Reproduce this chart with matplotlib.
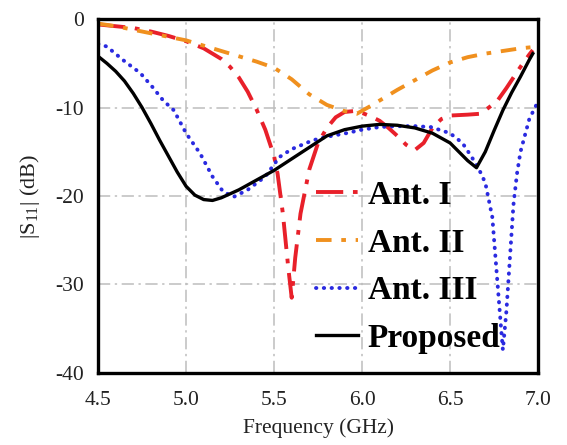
import numpy as np
import matplotlib
matplotlib.use("Agg")
import matplotlib.pyplot as plt

plt.rcParams['font.family'] = ['Liberation Serif', 'DejaVu Serif']
plt.rcParams['mathtext.default'] = 'regular'
plt.rcParams['axes.unicode_minus'] = False

# Proposed antenna
f_prop = [4.5, 4.55, 4.6, 4.65, 4.7, 4.75, 4.8, 4.85, 4.9, 4.95, 5.0, 5.05, 5.1,
          5.15, 5.2, 5.3, 5.4, 5.5, 5.6, 5.7, 5.8, 5.9, 6.0, 6.1, 6.2, 6.3, 6.4,
          6.5, 6.56, 6.6, 6.65, 6.7, 6.75, 6.8, 6.85, 6.9, 6.95, 6.97]
s_prop = [-4.2, -5.0, -5.9, -7.0, -8.4, -10.0, -11.8, -13.7, -15.5, -17.3, -18.9,
          -19.9, -20.4, -20.5, -20.2, -19.3, -18.2, -17.1, -15.8, -14.5, -13.2,
          -12.5, -12.1, -11.9, -12.0, -12.3, -12.9, -14.0, -15.2, -16.0, -16.8,
          -15.0, -12.6, -10.3, -8.3, -6.5, -4.6, -3.9]

# Ant. I
f_ant1 = [4.5, 4.6, 4.7, 4.8, 4.9, 5.0, 5.1, 5.2, 5.25, 5.3, 5.35, 5.4, 5.45, 5.5,
          5.52, 5.55, 5.58, 5.6, 5.62, 5.65, 5.7, 5.75, 5.8, 5.85, 5.9, 5.95, 6.0,
          6.05, 6.1, 6.15, 6.2, 6.25, 6.3, 6.35, 6.4, 6.45, 6.5, 6.6, 6.67, 6.72,
          6.77, 6.82, 6.87, 6.9, 6.95, 6.97]
s_ant1 = [-0.6, -0.8, -1.0, -1.4, -1.9, -2.5, -3.3, -4.5, -5.4, -6.6, -8.2, -10.2,
          -12.5, -15.5, -17.5, -22.0, -28.0, -31.5, -27.0, -22.0, -17.0, -14.0,
          -12.3, -11.1, -10.5, -10.4, -10.6, -11.0, -11.5, -12.3, -13.2, -14.2,
          -14.8, -14.0, -12.3, -11.3, -10.9, -10.8, -10.7, -10.0, -9.2, -7.8,
          -6.3, -5.4, -4.0, -3.5]

# Ant. II
f_ant2 = [4.5, 4.6, 4.7, 4.8, 4.9, 5.0, 5.1, 5.2, 5.3, 5.4, 5.5, 5.6, 5.7, 5.8,
          5.9, 5.97, 6.05, 6.1, 6.2, 6.3, 6.4, 6.5, 6.6, 6.7, 6.8, 6.9, 7.0]
s_ant2 = [-0.5, -0.8, -1.2, -1.6, -2.0, -2.4, -3.0, -3.6, -4.2, -4.8, -5.5, -6.8,
          -8.5, -9.7, -10.4, -10.7, -9.8, -9.2, -8.0, -6.9, -5.8, -4.9, -4.3,
          -3.9, -3.6, -3.3, -3.1]

# Ant. III
f_ant3 = [4.5, 4.55, 4.64, 4.74, 4.81, 4.87, 4.93, 5.0, 5.08, 5.15, 5.21, 5.27,
          5.35, 5.45, 5.53, 5.6, 5.72, 5.8, 5.91, 6.0, 6.1, 6.2, 6.3, 6.39, 6.5,
          6.57, 6.62, 6.66, 6.7, 6.74, 6.77, 6.79, 6.8, 6.82, 6.84, 6.86, 6.88,
          6.9, 6.95, 7.0]
s_ant3 = [-2.8, -3.1, -4.6, -6.1, -7.7, -9.2, -10.3, -12.9, -15.2, -17.8, -19.5,
          -20.1, -19.3, -17.8, -15.6, -14.7, -13.7, -13.3, -12.9, -12.5, -12.2,
          -12.1, -12.1, -12.2, -12.9, -14.0, -15.5, -16.8, -18.5, -22.4, -30.0,
          -35.0, -37.4, -33.0, -27.0, -21.0, -17.5, -15.0, -11.3, -9.3]

x_ticks = [4.5, 5.0, 5.5, 6.0, 6.5, 7.0]
y_ticks = [0, -10, -20, -30, -40]

fig = plt.figure(figsize=(5.67, 4.45), dpi=100)
ax = fig.add_axes([0.173, 0.162, 0.776, 0.795])

ax.plot(f_ant1, s_ant1, color='#e8202a', lw=2.8, dashes=(7, 2.5, 1.2, 2.5), label='Ant. I')
ax.plot(f_ant2, s_ant2, color='#f0901e', lw=2.8, dashes=(4, 2.5, 1.2, 2.5), label='Ant. II')
ax.plot(f_ant3, s_ant3, color='#2a2ae0', lw=2.8, dashes=(0.1, 1.9),
        dash_capstyle='round', label='Ant. III')
ax.plot(f_prop, s_prop, color='black', lw=2.4, label='Proposed')

ax.set_xlim(4.5, 7.0)
ax.set_ylim(-40, 0)
ax.set_xticks(x_ticks)
ax.set_xticklabels(['%.1f' % v for v in x_ticks])
ax.set_yticks(y_ticks)
ax.grid(True, color='#bdbdbd', lw=1.1, linestyle=(0, (8, 3, 1.5, 3)))
ax.tick_params(length=0, labelsize=15.5, colors='#222222')
ax.tick_params(axis='x', pad=13)
ax.tick_params(axis='y', pad=10)
for sp in ax.spines.values():
    sp.set_linewidth(2.4)

ax.set_xlabel('Frequency (GHz)', fontsize=15.5, labelpad=6, color='#222222')
ax.set_ylabel('|S$_{11}$| (dB)', fontsize=16, labelpad=10, color='#222222')

leg = ax.legend(loc='upper left', bbox_to_anchor=(0.495, 0.545), frameon=False,
                borderaxespad=0, borderpad=0, handlelength=1.25, handletextpad=0.3,
                labelspacing=0.5, prop={'size': 24, 'weight': 'bold'})

fig.savefig('out.png', dpi=100)
